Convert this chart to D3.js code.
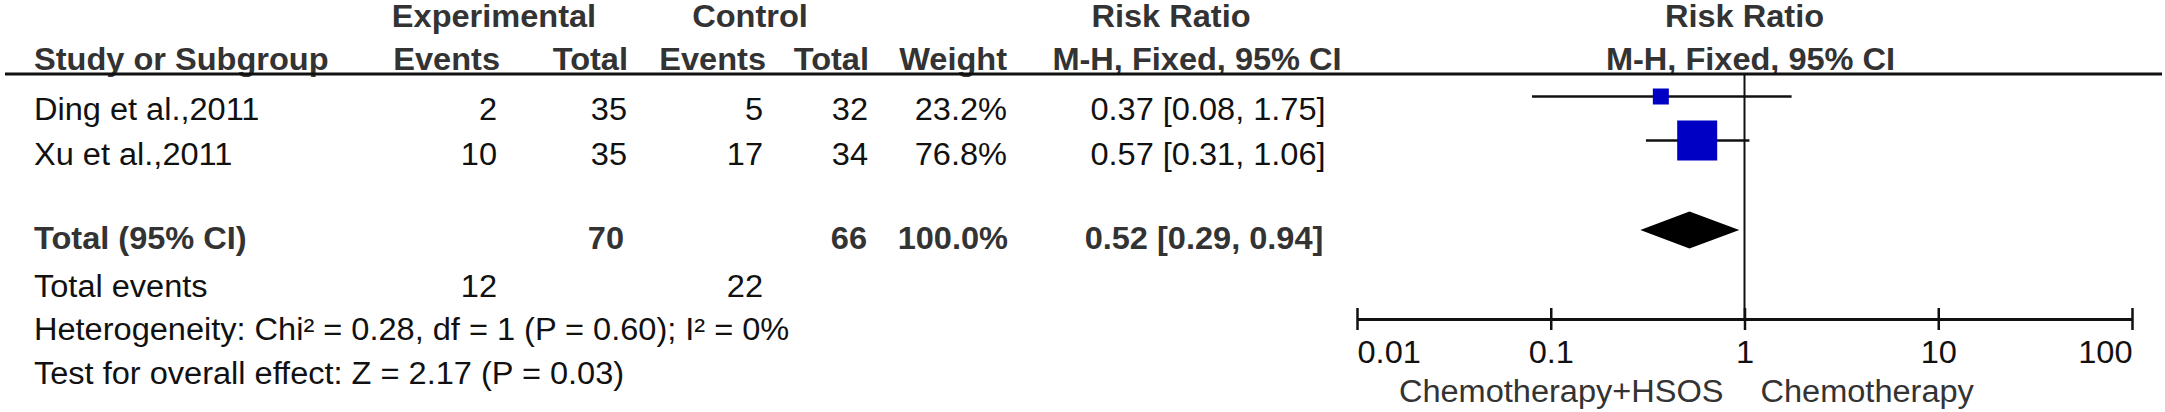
<!DOCTYPE html>
<html>
<head>
<meta charset="utf-8">
<script src="https://cdn.jsdelivr.net/npm/d3@7"></script>
<style>
  body { margin: 0; background: #fff; }
  text { font-family: "Liberation Sans", Arial, sans-serif; }
</style>
</head>
<body>
<div id="chart"></div>
<script>
// Study data
const studies = ["Ding et al.,2011", "Xu et al.,2011"];
const expEvents = [2, 10];
const expTotal = [35, 35];
const ctrlEvents = [5, 17];
const ctrlTotal = [32, 34];
const weights = [23.2, 76.8];
const riskRatio = [0.37, 0.57];
const ciLower = [0.08, 0.31];
const ciUpper = [1.75, 1.06];

// pooled result
const totalLabels = ["70", "66", "100.0%"];
const totalEvents = [12, 22];
const pooled = [0.52, 0.29, 0.94]; // estimate, lower, upper

const axisTicks = [0.01, 0.1, 1, 10, 100];
const axisLabels = ["0.01", "0.1", "1", "10", "100"];
const favours = ["Chemotherapy+HSOS", "Chemotherapy"];
const footer = [
    "Heterogeneity: Chi\u00b2 = 0.28, df = 1 (P = 0.60); I\u00b2 = 0%",
    "Test for overall effect: Z = 2.17 (P = 0.03)"
];

const W = 2165, H = 412;
const FS = 31;     // font size
const SX = 1.05;   // text in the picture is a little stretched sideways

const svg = d3.select("#chart")
    .append("svg")
    .attr("width", W)
    .attr("height", H);

// helper for text so the sideways stretch is kept
const addText = (str, x, y, anchor, bold, color) => {
    return svg.append("text")
        .attr("transform", `translate(${x},${y}) scale(${SX},1)`)
        .attr("text-anchor", anchor || "start")
        .style("font-size", FS + "px")
        .style("font-weight", bold ? "bold" : "normal")
        .style("fill", color || (bold ? "#333" : "#111"))
        .text(str);
};

// column positions
const colName = 34;
const colExpEv = 497, colExpTot = 627, colCtrlEv = 763, colCtrlTot = 868, colWeight = 1007;
const colCI = 1208;

// row baselines
const rowText = [120, 164.5];
const rowMark = [96.5, 140.5];

// Headers
addText("Experimental", 494, 27, "middle", true);
addText("Control", 750, 27, "middle", true);
addText("Risk Ratio", 1171, 27, "middle", true);
addText("Study or Subgroup", colName, 70, "start", true);
addText("Events", 500, 70, "end", true);
addText("Total", 628, 70, "end", true);
addText("Events", 766, 70, "end", true);
addText("Total", 869, 70, "end", true);
addText("Weight", 1007, 70, "end", true);
addText("M-H, Fixed, 95% CI", 1197, 70, "middle", true);

// x scale for the plot panel
const x = d3.scaleLog()
    .domain([0.01, 100])
    .range([1357, 2132]);

addText("Risk Ratio", x(1), 27, "middle", true);
addText("M-H, Fixed, 95% CI", x(1) + 6, 70, "middle", true);

// header rule
svg.append("line")
    .attr("x1", 5).attr("x2", 2162)
    .attr("y1", 74).attr("y2", 74)
    .attr("stroke", "#111")
    .attr("stroke-width", 3);

// Study rows
studies.forEach((s, i) => {
    addText(s, colName, rowText[i]);
    addText(expEvents[i], colExpEv, rowText[i], "end");
    addText(expTotal[i], colExpTot, rowText[i], "end");
    addText(ctrlEvents[i], colCtrlEv, rowText[i], "end");
    addText(ctrlTotal[i], colCtrlTot, rowText[i], "end");
    addText(weights[i].toFixed(1) + "%", colWeight, rowText[i], "end");
    addText(`${riskRatio[i].toFixed(2)} [${ciLower[i].toFixed(2)}, ${ciUpper[i].toFixed(2)}]`,
        colCI, rowText[i], "middle");
});

// Total rows
const totalY = 249;
addText("Total (95% CI)", colName, totalY, "start", true);
addText(totalLabels[0], colExpTot - 3, totalY, "end", true);
addText(totalLabels[1], colCtrlTot - 1, totalY, "end", true);
addText(totalLabels[2], colWeight + 1, totalY, "end", true);
addText(`${pooled[0].toFixed(2)} [${pooled[1].toFixed(2)}, ${pooled[2].toFixed(2)}]`,
    colCI - 4, totalY, "middle", true);

addText("Total events", colName, 297);
addText(totalEvents[0], colExpEv, 297, "end");
addText(totalEvents[1], colCtrlEv, 297, "end");
addText(footer[0], colName, 340);
addText(footer[1], colName, 384);

// line of no effect
const axisY = 319;
svg.append("line")
    .attr("x1", x(1)).attr("x2", x(1))
    .attr("y1", 74).attr("y2", axisY)
    .attr("stroke", "#111")
    .attr("stroke-width", 2);

// confidence intervals
const size = d3.scaleLinear().domain([0, 100]).range([5.6, 50.4]);

svg.selectAll(".ci")
    .data(studies)
    .enter()
    .append("line")
    .attr("class", "ci")
    .attr("x1", (d, i) => x(ciLower[i]))
    .attr("x2", (d, i) => x(ciUpper[i]))
    .attr("y1", (d, i) => rowMark[i])
    .attr("y2", (d, i) => rowMark[i])
    .attr("stroke", "#111")
    .attr("stroke-width", 2.5);

svg.selectAll(".box")
    .data(studies)
    .enter()
    .append("rect")
    .attr("class", "box")
    .attr("x", (d, i) => x(riskRatio[i]) - size(weights[i]) / 2)
    .attr("y", (d, i) => rowMark[i] - size(weights[i]) / 2)
    .attr("width", (d, i) => size(weights[i]))
    .attr("height", (d, i) => size(weights[i]))
    .attr("fill", "#0000c4");

// pooled diamond
const dY = 230, dH = 18.5;
svg.append("path")
    .attr("d", `M${x(pooled[1])},${dY} L${x(pooled[0])},${dY - dH} L${x(pooled[2])},${dY} L${x(pooled[0])},${dY + dH} Z`)
    .attr("fill", "#000");

// bottom axis
const axis = svg.append("g")
    .attr("transform", `translate(0,${axisY})`)
    .call(d3.axisBottom(x).tickValues(axisTicks).tickFormat((d, i) => axisLabels[i]).tickSizeOuter(0));

axis.select(".domain")
    .attr("stroke", "#111")
    .attr("stroke-width", 3);

axis.selectAll(".tick line")
    .attr("y1", -11)
    .attr("y2", 11)
    .attr("stroke", "#111")
    .attr("stroke-width", 2.5);

axis.selectAll(".tick text")
    .attr("y", 44)
    .attr("dy", 0)
    .attr("transform", `scale(${SX},1)`)
    .style("font-size", FS + "px")
    .style("font-family", "'Liberation Sans', Arial, sans-serif")
    .style("fill", "#111")
    .attr("text-anchor", (d, i) => i === 0 ? "start" : (i === axisTicks.length - 1 ? "end" : "middle"));

// favours labels
addText(favours[0], x(1) - 21, 402, "end", false, "#333");
addText(favours[1], x(1) + 16, 402, "start", false, "#333");
</script>
</body>
</html>
